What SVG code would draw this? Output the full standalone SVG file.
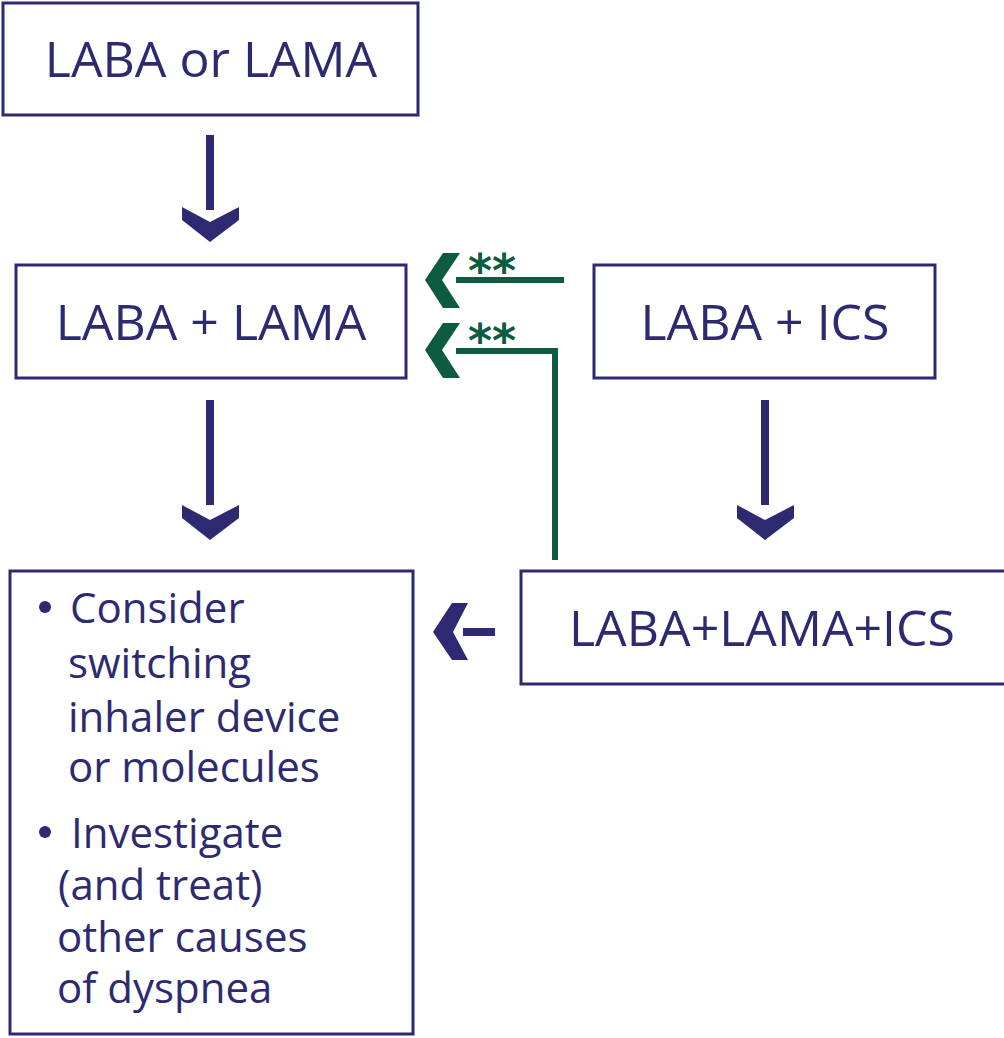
<svg xmlns="http://www.w3.org/2000/svg" width="1004" height="1038" viewBox="0 0 1004 1038">
<style>
.box{fill:#fff;stroke:#2e2a72;stroke-width:3}
.t{font-family:"Open Sans","Liberation Sans",sans-serif;fill:#2e2a72}
.big{font-size:50px;text-anchor:middle}
.sm{font-size:42px}
.nav{fill:#2e2a72}
.grn{fill:#0e5c40}
.gl{stroke:#0e5c40;stroke-width:6;fill:none}
.ast{font-family:"DejaVu Sans",sans-serif;font-weight:bold;font-size:46px;fill:#0e5c40}
</style>
<rect width="1004" height="1038" fill="#fff"/>
<g id="n1"><rect class="box" x="3" y="3" width="415" height="112"/><text class="t big" x="211" y="77">LABA or LAMA</text></g>
<g id="n2"><rect class="box" x="16" y="265" width="390" height="113"/><text class="t big" x="211" y="340">LABA + LAMA</text></g>
<g id="n3"><rect class="box" x="594" y="265" width="341" height="113"/><text class="t big" x="765" y="340">LABA + ICS</text></g>
<g id="n4"><rect class="box" x="521" y="571" width="490" height="113"/><text class="t big" x="762" y="646">LABA+LAMA+ICS</text></g>
<g id="n5"><rect class="box" x="10" y="571" width="403" height="463"/>
<circle class="nav" cx="45" cy="607" r="6"/>
<text class="t sm" x="70" y="623">Consider</text>
<text class="t sm" x="68" y="678">switching</text>
<text class="t sm" x="68" y="732">inhaler device</text>
<text class="t sm" x="68" y="782">or molecules</text>
<circle class="nav" cx="45" cy="832" r="6"/>
<text class="t sm" x="71" y="848">Investigate</text>
<text class="t sm" x="58" y="900">(and treat)</text>
<text class="t sm" x="57" y="952">other causes</text>
<text class="t sm" x="57" y="1003">of dyspnea</text>
</g>
<g id="connectors">
<rect class="nav" x="206" y="135" width="8" height="75"/>
<polygon class="nav" points="182,207 210,222 239,207 239,220 210,242 182,220"/>
<rect class="nav" x="206" y="400" width="8" height="105"/>
<polygon class="nav" points="182,505 210,520 239,505 239,518 210,540 182,518"/>
<rect class="nav" x="761" y="400" width="8" height="105"/>
<polygon class="nav" points="737,505 765,520 794,505 794,518 765,540 737,518"/>
<rect class="nav" x="463" y="628" width="32" height="8"/>
<polygon class="nav" points="452,603 468,603 453,632 468,660 452,660 433,632"/>
<line class="gl" x1="456" y1="280" x2="564" y2="280"/>
<polygon class="grn" points="443,253 460,253 442,280 460,308 443,308 425,280"/>
<text class="ast" x="468" y="287">**</text>
<polyline class="gl" points="456,351 555,351 555,560"/>
<polygon class="grn" points="443,323 460,323 442,350 460,378 443,378 425,350"/>
<text class="ast" x="468" y="357">**</text>
</g>
</svg>
